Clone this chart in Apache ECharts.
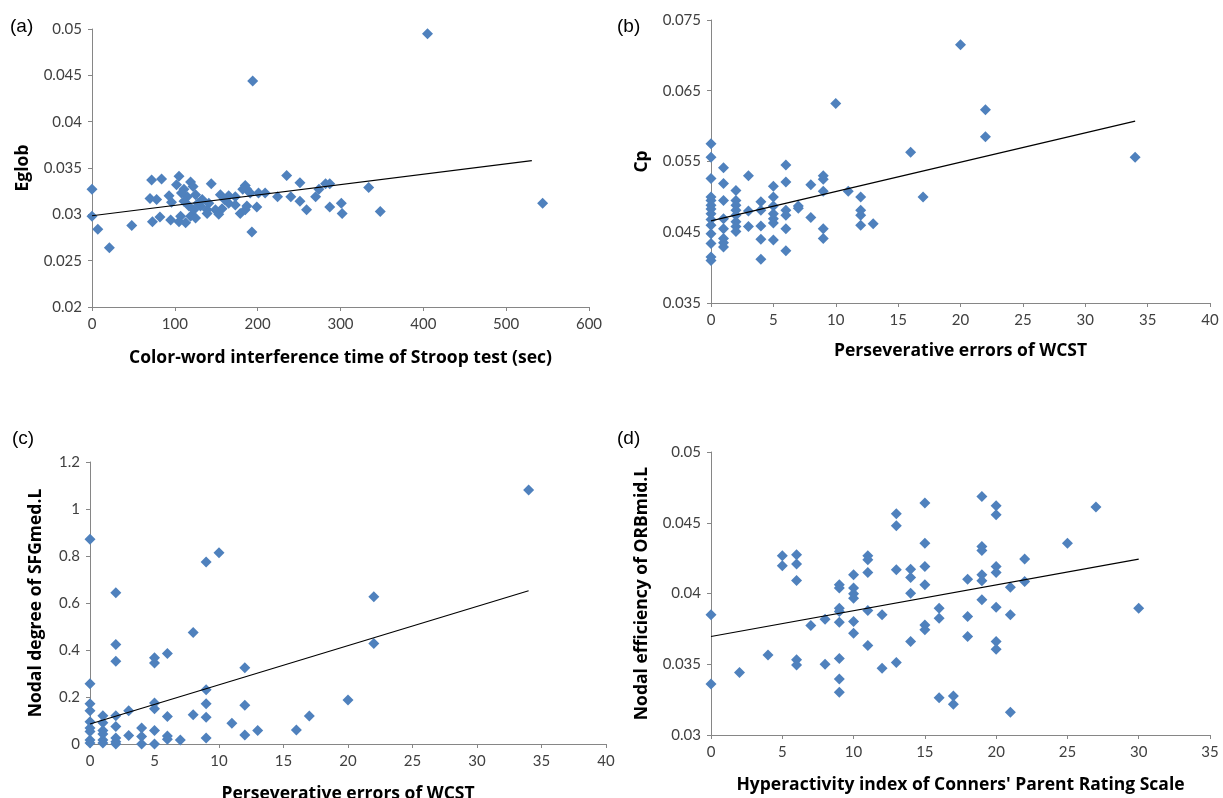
<!DOCTYPE html>
<html>
<head>
<meta charset="utf-8">
<script src="https://cdn.jsdelivr.net/npm/echarts@6/dist/echarts.min.js"></script>
<style>
  html, body { margin: 0; padding: 0; background: #fff; }
  #chart { width: 1223px; height: 798px; }
</style>
</head>
<body>
<div id="chart"></div>
<script>
// (a) Eglob vs Stroop interference time
const aX = [0, 0, 7, 21, 48, 405, 194, 193, 224, 235, 240, 251, 251, 259, 270, 274, 282, 287, 287, 301, 302, 334, 348, 544,
  72, 84, 105, 102, 119, 122, 111, 144, 185, 187, 70, 78, 93, 96, 115, 125, 133, 141, 131, 117, 123, 111, 155, 165, 173,
  191, 201, 209, 165, 173, 157, 149, 139, 187, 199, 73, 82, 95, 105, 107, 119, 125, 113, 139, 153, 179, 185, 182, 108, 160, 128]
const aY = [0.0327, 0.0298, 0.0284, 0.0264, 0.0288, 0.0495, 0.0444, 0.0281, 0.0319, 0.0342, 0.0319, 0.0334, 0.0314, 0.0305,
  0.0319, 0.0327, 0.0333, 0.0333, 0.0308, 0.0312, 0.0301, 0.0329, 0.0303, 0.0312,
  0.0337, 0.0338, 0.0341, 0.0332, 0.0335, 0.0330, 0.0327, 0.0333, 0.0331, 0.0327, 0.0317, 0.0316, 0.0320, 0.0313, 0.0319,
  0.0321, 0.0316, 0.0312, 0.0309, 0.0309, 0.0305, 0.0314, 0.0321, 0.0320, 0.0319, 0.0323, 0.0323, 0.0323, 0.0312, 0.0310,
  0.0306, 0.0305, 0.0305, 0.0309, 0.0308, 0.0292, 0.0297, 0.0294, 0.0292, 0.0298, 0.0298, 0.0296, 0.0291, 0.0301, 0.0300,
  0.0301, 0.0305, 0.0327, 0.0323, 0.0316, 0.0312]
const trendAX = [0, 531]
const trendAY = [0.02985, 0.0358]

// (b) Cp vs perseverative errors
const bX = [0, 0, 0, 0, 0, 0, 0, 0, 0, 0, 0, 0, 0, 0,
  1, 1, 1, 1, 1, 1, 1, 1,
  2, 2, 2, 2, 2, 2, 2, 2,
  3, 3, 3,
  4, 4, 4, 4, 4,
  5, 5, 5, 5, 5, 5, 5,
  6, 6, 6, 6, 6, 6,
  7, 7, 8, 8,
  9, 9, 9, 9, 9,
  10, 11, 12, 12, 12, 12, 13, 16, 17, 20, 22, 22, 34]
const bY = [0.0575, 0.0556, 0.0526, 0.0500, 0.0495, 0.0488, 0.0483, 0.0476, 0.0468, 0.0460, 0.0448, 0.0434, 0.0415, 0.0410,
  0.0541, 0.0519, 0.0495, 0.0469, 0.0455, 0.0441, 0.0435, 0.0429,
  0.0509, 0.0495, 0.0488, 0.0481, 0.0474, 0.0465, 0.0458, 0.0451,
  0.0530, 0.0480, 0.0458,
  0.0493, 0.0481, 0.0459, 0.0440, 0.0412,
  0.0515, 0.0500, 0.0487, 0.0476, 0.0469, 0.0463, 0.0439,
  0.0545, 0.0521, 0.0481, 0.0474, 0.0455, 0.0424,
  0.0487, 0.0484, 0.0517, 0.0471,
  0.0530, 0.0525, 0.0508, 0.0455, 0.0441,
  0.0632, 0.0508, 0.0500, 0.0481, 0.0474, 0.0460, 0.0462, 0.0563, 0.0500, 0.0715, 0.0623, 0.0585, 0.0556]
const bTicks = [0.035, 0.045, 0.055, 0.065, 0.075]
const trendBX = [0, 34]
const trendBY = [0.0466, 0.0607]

// (c) nodal degree of SFGmed.L vs perseverative errors
const cX = [0, 0, 0, 0, 0, 0, 0, 0, 0,
  1, 1, 1, 1, 1, 1,
  2, 2, 2, 2, 2, 2, 2, 2,
  3, 3, 4, 4, 4,
  5, 5, 5, 5, 5, 5,
  6, 6, 6, 6, 7, 8, 8,
  9, 9, 9, 9, 9,
  10, 11, 12, 12, 12, 13, 16, 17, 20, 22, 22, 34]
const cY = [0.871, 0.256, 0.171, 0.142, 0.095, 0.068, 0.053, 0.017, 0.004,
  0.12, 0.09, 0.057, 0.043, 0.017, 0.004,
  0.644, 0.423, 0.352, 0.12, 0.074, 0.026, 0.01, 0,
  0.142, 0.036, 0.068, 0.032, 0,
  0.367, 0.345, 0.174, 0.15, 0.057, 0,
  0.385, 0.117, 0.034, 0.02, 0.017, 0.475, 0.124,
  0.774, 0.231, 0.171, 0.114, 0.026,
  0.814, 0.088, 0.325, 0.165, 0.038, 0.057, 0.06, 0.119, 0.187, 0.627, 0.428, 1.081]
const trendCX = [0, 34]
const trendCY = [0.085, 0.652]

// (d) nodal efficiency of ORBmid.L vs hyperactivity index
const dX = [0, 0, 2, 4, 5, 5,
  6, 6, 6, 6, 6, 7, 8, 8,
  9, 9, 9, 9, 9, 9, 9, 9,
  10, 10, 10, 10, 10, 10,
  11, 11, 11, 11, 11, 12, 12,
  13, 13, 13, 13, 14, 14, 14, 14,
  15, 15, 15, 15, 15, 15, 16, 16, 16, 17, 17, 18, 18, 18,
  19, 19, 19, 19, 19, 19,
  20, 20, 20, 20, 20, 20, 20,
  21, 21, 21, 22, 22, 25, 27, 30]
const dY = [0.03849, 0.03361, 0.03441, 0.03566, 0.04267, 0.04196,
  0.04274, 0.04208, 0.04092, 0.03531, 0.03495, 0.03774, 0.03818, 0.03500,
  0.04061, 0.04038, 0.03896, 0.03873, 0.03797, 0.03540, 0.03396, 0.03302,
  0.04132, 0.04038, 0.03998, 0.03967, 0.03802, 0.03719,
  0.04267, 0.04238, 0.04149, 0.03880, 0.03632, 0.03849, 0.03472,
  0.04564, 0.04479, 0.04167, 0.03512, 0.04172, 0.04113, 0.04002, 0.03660,
  0.04639, 0.04356, 0.04191, 0.04061, 0.03778, 0.03743, 0.03896, 0.03825, 0.03264, 0.03276, 0.03217, 0.04101, 0.03837, 0.03696,
  0.04686, 0.04332, 0.04304, 0.04132, 0.04090, 0.03955,
  0.04620, 0.04557, 0.04191, 0.04149, 0.03903, 0.03660, 0.03606,
  0.04045, 0.03849, 0.03160, 0.04243, 0.04085, 0.04356, 0.04611, 0.03896]
const trendDX = [0, 30]
const trendDY = [0.03696, 0.04243]

const zip = (xs, ys) => xs.map((x, i) => [x, ys[i]])

const axisColor = '#868686'
const tickLabel = { color: '#404040', fontFamily: 'Lato', fontSize: 15 }
const axisName = { color: '#000', fontFamily: 'Open Sans', fontSize: 17.5, fontWeight: 'bold' }

const makeAxis = (gridIndex, min, max, interval, name, nameGap, isY) => ({
  type: 'value',
  gridIndex,
  min,
  max,
  interval,
  name,
  nameLocation: 'middle',
  nameGap,
  nameRotate: isY ? 90 : 0,
  nameTextStyle: axisName,
  axisLine: { show: true, onZero: false, lineStyle: { color: axisColor, width: 1 } },
  axisTick: { show: true, length: 4, lineStyle: { color: axisColor } },
  axisLabel: { ...tickLabel, margin: 10 },
  splitLine: { show: false },
})

const scatter = (i, xs, ys) => ({
  type: 'scatter',
  xAxisIndex: i,
  yAxisIndex: i,
  data: zip(xs, ys),
  symbol: 'diamond',
  symbolSize: 11,
  itemStyle: { color: '#4F81BD', opacity: 1 },
  z: 2,
})

const trend = (i, xs, ys) => ({
  type: 'line',
  xAxisIndex: i,
  yAxisIndex: i,
  data: zip(xs, ys),
  symbol: 'none',
  lineStyle: { color: '#000', width: 1.2 },
  z: 3,
})

const panelTitle = (text, left, top) => ({
  text,
  left,
  top,
  padding: 0,
  textStyle: { fontFamily: 'Liberation Sans', fontSize: 19, fontWeight: 'normal', color: '#000' },
})

const yB = makeAxis(1, 0.035, 0.075, 0.01, 'Cp', 60, true)
yB.axisLabel.customValues = bTicks
yB.axisTick.customValues = bTicks

const option = {
  animation: false,
  title: [
    panelTitle('(a)', 10, 17),
    panelTitle('(b)', 617, 17),
    panelTitle('(c)', 12, 429),
    panelTitle('(d)', 617, 429),
  ],
  grid: [
    { left: 92, top: 29, width: 497, height: 278, outerBoundsMode: 'none' },
    { left: 711, top: 20, width: 499, height: 283, outerBoundsMode: 'none' },
    { left: 90, top: 462, width: 516, height: 282, outerBoundsMode: 'none' },
    { left: 711, top: 452, width: 499, height: 283, outerBoundsMode: 'none' },
  ],
  xAxis: [
    makeAxis(0, 0, 600, 100, 'Color-word interference time of Stroop test (sec)', 42, false),
    makeAxis(1, 0, 40, 5, 'Perseverative errors of WCST', 39, false),
    makeAxis(2, 0, 40, 5, 'Perseverative errors of WCST', 41, false),
    makeAxis(3, 0, 35, 5, "Hyperactivity index of Conners' Parent Rating Scale", 41, false),
  ],
  yAxis: [
    makeAxis(0, 0.02, 0.05, 0.005, 'Eglob', 60, true),
    yB,
    makeAxis(2, 0, 1.2, 0.2, 'Nodal degree of SFGmed.L', 45, true),
    makeAxis(3, 0.03, 0.05, 0.005, 'Nodal efficiency of ORBmid.L', 60, true),
  ],
  series: [
    scatter(0, aX, aY), trend(0, trendAX, trendAY),
    scatter(1, bX, bY), trend(1, trendBX, trendBY),
    scatter(2, cX, cY), trend(2, trendCX, trendCY),
    scatter(3, dX, dY), trend(3, trendDX, trendDY),
  ],
}

const chart = echarts.init(document.getElementById('chart'))
chart.setOption(option)
window.onresize = function () {
  chart.resize()
}
</script>
</body>
</html>
